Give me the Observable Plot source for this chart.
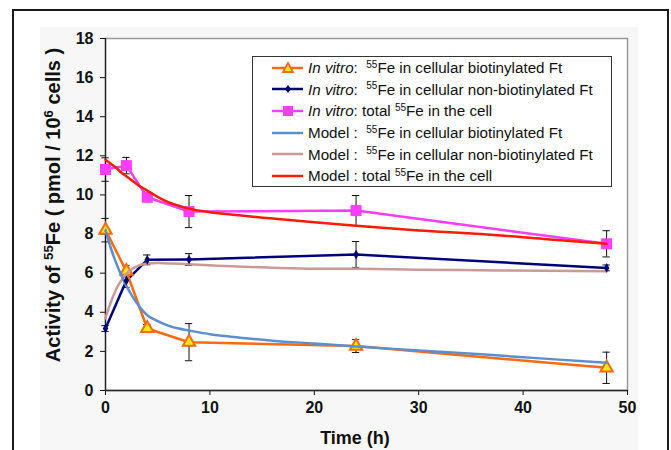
<!DOCTYPE html>
<html><head><meta charset="utf-8">
<script src="https://cdn.jsdelivr.net/npm/d3@7"></script>
<script src="https://cdn.jsdelivr.net/npm/@observablehq/plot@0.6"></script>
<style>
body{margin:0;background:#fff;}
#wrap{position:relative;width:671px;height:450px;overflow:hidden;font-family:"Liberation Sans",Arial,sans-serif;color:#111;}
#frame{position:absolute;left:12px;top:9px;width:653px;height:480px;border:2px solid #1a1a1a;}
#area{position:absolute;left:40px;top:27px;width:598px;height:480px;background:#f7f7f7;}
#chart{position:absolute;left:0;top:0;}
#ytitle{position:absolute;left:53px;top:205px;transform:translate(-50%,-50%) rotate(-90deg);white-space:nowrap;font-weight:bold;font-size:20px;}
#xtitle{position:absolute;left:355px;top:438px;transform:translate(-50%,-50%);white-space:nowrap;font-weight:bold;font-size:18px;line-height:20px;}
sup{font-size:0.66em;vertical-align:0;position:relative;top:-0.55em;}
#legend{position:absolute;left:252px;top:56px;width:358px;height:129px;border:1px solid #333;background:#fff;font-size:15.2px;}
.row{height:21.6px;display:flex;align-items:center;white-space:nowrap;}
.row svg{margin-left:19px;margin-right:5px;flex:none;}
</style></head>
<body>
<div id="wrap">
  <div id="frame"></div>
  <div id="area"></div>
  <div id="chart"></div>
  <div id="ytitle">Activity of <sup>55</sup>Fe ( pmol / 10<sup>6</sup> cells )</div>
  <div id="xtitle">Time (h)</div>
  <div id="legend"></div>
</div>
<script>
// ---- data ----
const xTicks = [0, 10, 20, 30, 40, 50];
const yTicks = [0, 2, 4, 6, 8, 10, 12, 14, 16, 18];

// in vitro measurements
const tVitro = [0, 2, 4, 8, 24, 48];
const vitroBio = [8.2, 6.1, 3.17, 2.47, 2.27, 1.16];
const vitroBioErr = [0.6, 0.3, 0.2, 0.95, 0.33, 0.8];
const vitroNon = [3.17, 5.62, 6.68, 6.7, 6.95, 6.27];
const vitroNonErr = [0.15, 0.35, 0.25, 0.3, 0.67, 0.15];
const vitroTot = [11.3, 11.5, 9.88, 9.15, 9.2, 7.5];
const vitroTotErr = [0.6, 0.42, 0.15, 0.82, 0.77, 0.67];

// model curves
const tModel = [0, 0.5, 1, 1.5, 2, 2.5, 3, 3.5, 4, 5, 6, 7, 8, 10, 12, 16, 20, 24, 30, 36, 42, 48];
const modelBio = [8.2, 7.3, 6.55, 5.9, 5.35, 4.88, 4.47, 4.12, 3.85, 3.55, 3.32, 3.17, 3.07, 2.88, 2.75, 2.55, 2.4, 2.25, 2.05, 1.85, 1.63, 1.42];
const modelNon = [3.7, 4.5, 5.15, 5.62, 5.96, 6.2, 6.35, 6.44, 6.5, 6.52, 6.5, 6.48, 6.45, 6.4, 6.35, 6.28, 6.23, 6.22, 6.18, 6.15, 6.12, 6.1];
const modelTot = [11.8, 11.6, 11.4, 11.15, 10.95, 10.75, 10.55, 10.38, 10.22, 9.9, 9.63, 9.45, 9.3, 9.12, 9.0, 8.8, 8.6, 8.42, 8.18, 8.0, 7.75, 7.5];

const labels = [
  "<i>In vitro</i>:&nbsp; <sup>55</sup>Fe in cellular biotinylated Ft",
  "<i>In vitro</i>:&nbsp; <sup>55</sup>Fe in cellular non-biotinylated Ft",
  "<i>In vitro</i>: total <sup>55</sup>Fe in the cell",
  "Model :&nbsp; <sup>55</sup>Fe in cellular biotinylated Ft",
  "Model :&nbsp; <sup>55</sup>Fe in cellular non-biotinylated Ft",
  "Model : total <sup>55</sup>Fe in the cell"
];

const C = {
  bio: "#ff6a10", bioFill: "#ffe81a",
  non: "#00007a",
  tot: "#ff3cff",
  mBio: "#5b8fd0",
  mNon: "#c99a98",
  mTot: "#ff1a00"
};

// ---- build tables ----
const vit = (vals, errs, key) => tVitro.map((t, i) => ({t, v: vals[i], e: errs[i], key}));
const dBio = vit(vitroBio, vitroBioErr, "bio");
const dNon = vit(vitroNon, vitroNonErr, "non");
const dTot = vit(vitroTot, vitroTotErr, "tot");
const allVit = [...dBio, ...dNon, ...dTot];
const mod = (vals) => tModel.map((t, i) => ({t, v: vals[i]}));

const errMarks = [
  Plot.ruleX(allVit, {x: "t", y1: d => d.v - d.e, y2: d => d.v + d.e, stroke: "#111", strokeWidth: 1}),
  Plot.ruleY(allVit, {y: d => d.v - d.e, x1: d => d.t - 0.35, x2: d => d.t + 0.35, stroke: "#111", strokeWidth: 1}),
  Plot.ruleY(allVit, {y: d => d.v + d.e, x1: d => d.t - 0.35, x2: d => d.t + 0.35, stroke: "#111", strokeWidth: 1})
];

const chart = Plot.plot({
  width: 671, height: 450,
  marginLeft: 105, marginRight: 44, marginTop: 38, marginBottom: 60,
  style: {background: "transparent", fontFamily: "'Liberation Sans', Arial, sans-serif", fontWeight: "bold", fontSize: "16px", color: "#111"},
  x: {domain: [0, 50]},
  y: {domain: [0, 18]},
  marks: [
    Plot.frame({fill: "white", stroke: "#9a9a9a", strokeWidth: 1.5}),
    Plot.axisX({ticks: xTicks, tickSize: 5, tickPadding: 6, label: null, tickFormat: d => d}),
    Plot.axisY({ticks: yTicks, tickSize: 5, tickPadding: 7, label: null, tickFormat: d => d}),
    Plot.ruleY([0], {stroke: "#222", strokeWidth: 1.3}),
    Plot.ruleX([0], {stroke: "#222", strokeWidth: 1.3}),
    ...errMarks,
    Plot.line(dTot, {x: "t", y: "v", stroke: C.tot, strokeWidth: 2.5}),
    Plot.line(dNon, {x: "t", y: "v", stroke: C.non, strokeWidth: 2.5}),
    Plot.line(dBio, {x: "t", y: "v", stroke: C.bio, strokeWidth: 2.5}),
    Plot.dot(dTot, {x: "t", y: "v", symbol: "square", r: 6.2, fill: C.tot}),
    Plot.dot(dBio, {x: "t", y: "v", symbol: "triangle", r: 4.6, fill: C.bioFill, stroke: C.bio, strokeWidth: 2}),
    Plot.line(mod(modelNon), {x: "t", y: "v", stroke: C.mNon, strokeWidth: 2.5, curve: "monotone-x"}),
    Plot.line(mod(modelBio), {x: "t", y: "v", stroke: C.mBio, strokeWidth: 2.5, curve: "monotone-x"}),
    Plot.line(mod(modelTot), {x: "t", y: "v", stroke: C.mTot, strokeWidth: 2.5, curve: "monotone-x"}),
    Plot.dot(dNon, {x: "t", y: "v", symbol: "diamond", r: 2.9, fill: C.non})
  ]
});
document.getElementById("chart").appendChild(chart);

// ---- legend ----
const swatch = (stroke, marker) => {
  let m = "";
  if (marker === "triangle") m = `<path d="M16,2 L21,11 L11,11 Z" fill="${C.bioFill}" stroke="${stroke}" stroke-width="1.8"/>`;
  if (marker === "diamond") m = `<path d="M16,3 L19,7 L16,11 L13,7 Z" fill="${stroke}"/>`;
  if (marker === "square") m = `<rect x="11" y="2" width="10" height="10" fill="${stroke}"/>`;
  return `<svg width="31" height="14"><line x1="0" x2="31" y1="7" y2="7" stroke="${stroke}" stroke-width="2.5"/>${m}</svg>`;
};
const legendItems = [
  [C.bio, "triangle"], [C.non, "diamond"], [C.tot, "square"],
  [C.mBio, null], [C.mNon, null], [C.mTot, null]
];
document.getElementById("legend").innerHTML = legendItems.map((it, i) =>
  `<div class="row">${swatch(it[0], it[1])}<span>${labels[i]}</span></div>`).join("");
</script>
</body></html>
